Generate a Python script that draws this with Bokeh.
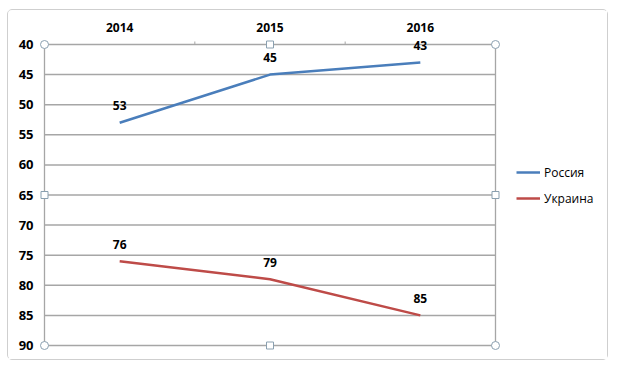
from bokeh.plotting import figure
from bokeh.models import (Range1d, FixedTicker, LinearAxis, Legend, LegendItem,
                          ColumnDataSource)
from bokeh.core.properties import value
from bokeh.embed import file_html
from bokeh.resources import INLINE

years = ["2014", "2015", "2016"]
russia = [53, 45, 43]
ukraine = [76, 79, 85]
y_ticks = [40, 45, 50, 55, 60, 65, 70, 75, 80, 85, 90]
series_names = ["Россия", "Украина"]
colors = ["#4A7EBB", "#BE4B48"]

FONT = "Open Sans"
GRID = "#a6a6a6"
HANDLE = "#8aa0b0"

# layout (pixels)
W, H = 601, 351
PAD = 5                      # room around plot area for selection handles
AREA_W, AREA_H = 451, 301    # plot-area size
ML, MT = 31, 29
FRAME_W = W - ML             # frame runs to the right edge (legend lives there)
MB = H - MT - AREA_H - 2 * PAD

xs = list(range(len(years)))
xa0, xa1 = -0.5, len(years) - 0.5
ya0, ya1 = min(y_ticks), max(y_ticks)
px_x = (xa1 - xa0) / AREA_W
px_y = (ya1 - ya0) / AREA_H

p = figure(width=W, height=H, output_backend="svg", toolbar_location=None,
           x_range=Range1d(xa0 - PAD * px_x, xa0 - PAD * px_x + FRAME_W * px_x),
           y_range=Range1d(ya1 + PAD * px_y, ya0 - PAD * px_y),
           x_axis_location=None, y_axis_location=None,
           min_border_left=ML, min_border_top=MT, min_border_right=0,
           min_border_bottom=MB)
p.styles = {"border": "1px solid #cfcfcf", "border-radius": "5px",
            "margin-left": "7px", "margin-top": "9px"}
p.background_fill_color = "white"
p.border_fill_color = "white"
p.outline_line_color = None
p.xgrid.visible = False
p.ygrid.visible = False

# top category axis
xa = LinearAxis(ticker=FixedTicker(ticks=xs),
                major_label_overrides={i: y for i, y in enumerate(years)})
xa.major_tick_line_color = None
xa.minor_tick_line_color = None
xa.axis_line_color = None
xa.major_label_text_font = FONT
xa.major_label_text_font_style = "bold"
xa.major_label_text_font_size = "12px"
xa.major_label_text_color = "black"
xa.major_label_standoff = 2
p.add_layout(xa, "above")

ya = LinearAxis(ticker=FixedTicker(ticks=y_ticks))
ya.major_tick_line_color = None
ya.minor_tick_line_color = None
ya.major_tick_out = 0
ya.major_tick_in = 0
ya.axis_line_color = None
ya.major_label_text_font = FONT
ya.major_label_text_font_style = "bold"
ya.major_label_text_font_size = "13px"
ya.major_label_text_color = "black"
ya.major_label_standoff = 6
p.add_layout(ya, "left")

# horizontal gridlines across the plot area
p.segment(x0=[xa0] * len(y_ticks), y0=y_ticks, x1=[xa1] * len(y_ticks), y1=y_ticks,
          line_color=GRID, line_width=1.5)
# plot-area vertical borders
p.segment(x0=[xa0, xa1], y0=[ya0, ya0], x1=[xa0, xa1], y1=[ya1, ya1],
          line_color=GRID, line_width=1.3)
# small category-boundary ticks on the top line
bnd = [i + 0.5 for i in range(len(years) - 1)]
p.segment(x0=bnd, y0=[ya0] * len(bnd), x1=bnd, y1=[ya0 - 3 * px_y] * len(bnd),
          line_color=GRID, line_width=1)

items = []
for name, vals, c in zip(series_names, [russia, ukraine], colors):
    src = ColumnDataSource(dict(x=xs, y=vals, t=[str(v) for v in vals]))
    r = p.line("x", "y", source=src, line_color=c, line_width=2.5)
    p.text("x", "y", text="t", source=src, text_font=value(FONT),
           text_font_style="bold", text_font_size="12px", text_color="black",
           text_align="center", text_baseline="middle", y_offset=-17)
    items.append(LegendItem(label=name, renderers=[r]))

# selection handles of the plot area (Excel-style)
xm, ym = (xa0 + xa1) / 2, (ya0 + ya1) / 2
p.scatter([xa0, xa1, xa0, xa1], [ya0, ya0, ya1, ya1], marker="circle", size=8,
          fill_color="white", line_color=HANDLE, line_width=1)
p.scatter([xm, xa0, xa1, xm], [ya0, ym, ym, ya1], marker="square", size=7,
          fill_color="white", line_color=HANDLE, line_width=1)

leg = Legend(items=items, location=(PAD + AREA_W + 21, 142), padding=0, margin=0,
             spacing=6, glyph_width=24, glyph_height=20, label_standoff=4,
             border_line_color=None, background_fill_alpha=0,
             label_text_font=FONT, label_text_font_size="12px",
             label_text_color="black")
p.add_layout(leg, "center")

open("out.html", "w").write(file_html(p, INLINE))
